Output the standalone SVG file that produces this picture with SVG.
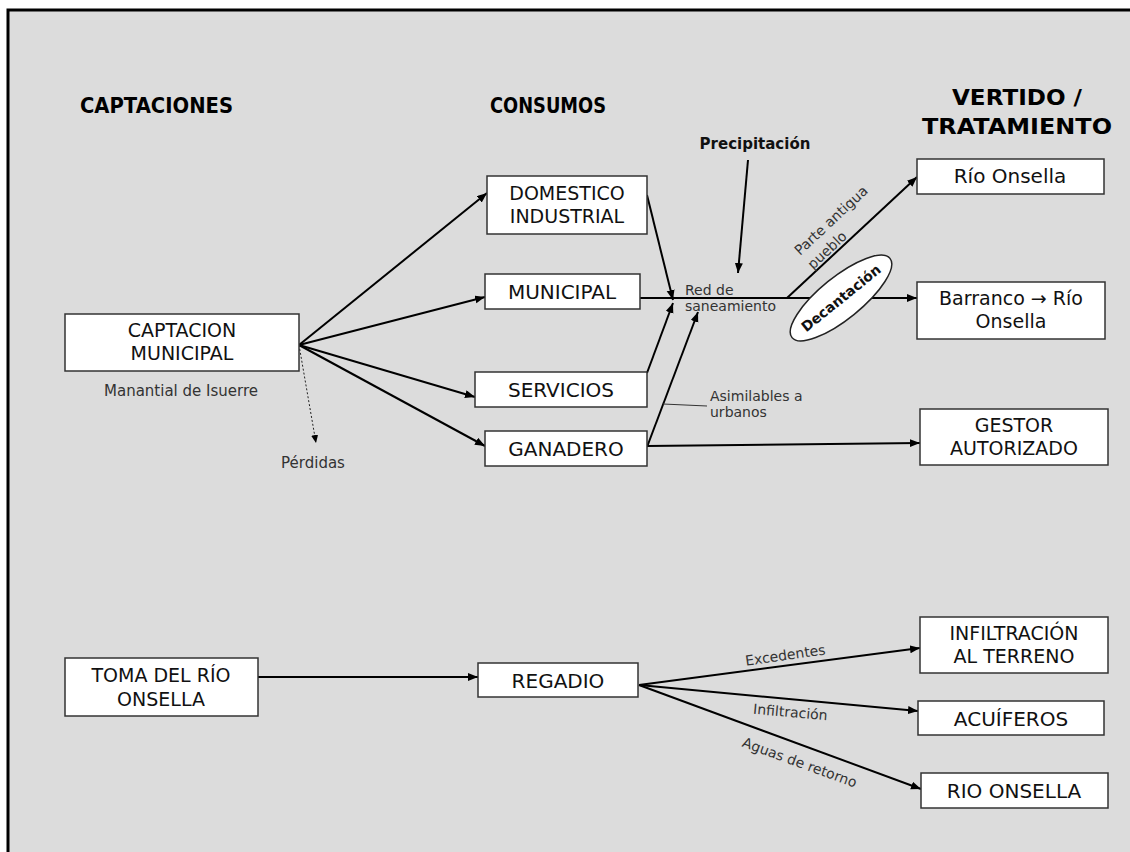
<svg xmlns="http://www.w3.org/2000/svg" width="1130" height="852" viewBox="0 0 1130 852">
<style>
.box{fill:#fff;stroke:#333;stroke-width:1.5}
.bt{font-family:"DejaVu Sans","Verdana",sans-serif;font-size:20px;fill:#111;text-anchor:middle}
.b2{font-size:19px}
.lb{font-family:"DejaVu Sans","Verdana",sans-serif;font-size:14px;fill:#333}
.hd{font-family:"DejaVu Sans","Verdana",sans-serif;font-size:21px;font-weight:bold;fill:#000}
.ln{fill:none;stroke:#000;stroke-width:2}
</style>
<defs>
<marker id="ah" markerUnits="userSpaceOnUse" markerWidth="11" markerHeight="9" refX="10" refY="4" orient="auto">
<path d="M0,0 L10,4 L0,8 z" fill="#000"/>
</marker>
<marker id="ahs" markerUnits="userSpaceOnUse" markerWidth="9" markerHeight="8" refX="8" refY="3.5" orient="auto">
<path d="M0,0 L8,3.5 L0,7 z" fill="#000"/>
</marker>
</defs>
<rect x="0" y="0" width="1130" height="852" fill="#fff"/>
<rect x="9" y="11" width="1121" height="841" fill="#dcdcdc"/>
<path d="M8,852 V10 H1130" fill="none" stroke="#000" stroke-width="3"/>

<g id="headings">
<text class="hd" x="80" y="113" textLength="153" lengthAdjust="spacingAndGlyphs">CAPTACIONES</text>
<text class="hd" x="490" y="113" textLength="116" lengthAdjust="spacingAndGlyphs">CONSUMOS</text>
<text class="hd" x="952" y="105" textLength="130" lengthAdjust="spacingAndGlyphs">VERTIDO /</text>
<text class="hd" x="922" y="134" textLength="190" lengthAdjust="spacingAndGlyphs">TRATAMIENTO</text>
</g>

<g id="connectors">
<line class="ln" x1="299" y1="345" x2="487" y2="193" marker-end="url(#ah)"/>
<line class="ln" x1="299" y1="345" x2="485" y2="297" marker-end="url(#ah)"/>
<line class="ln" x1="299" y1="345" x2="475" y2="397" marker-end="url(#ah)"/>
<line class="ln" x1="299" y1="345" x2="485" y2="446" marker-end="url(#ah)"/>
<line x1="299" y1="345" x2="316" y2="443" fill="none" stroke="#222" stroke-width="1" stroke-dasharray="2,2" marker-end="url(#ahs)"/>
<line class="ln" x1="647" y1="195" x2="673" y2="300" marker-end="url(#ah)"/>
<line class="ln" x1="640" y1="298" x2="917" y2="298" marker-end="url(#ah)"/>
<line class="ln" x1="647" y1="373" x2="673" y2="303" marker-end="url(#ah)"/>
<line class="ln" x1="647" y1="447" x2="698" y2="312" marker-end="url(#ah)"/>
<line x1="663" y1="404" x2="707" y2="406" stroke="#333" stroke-width="1"/>
<line class="ln" x1="647" y1="446" x2="920" y2="443" marker-end="url(#ah)"/>
<line class="ln" x1="748" y1="160" x2="738" y2="273" marker-end="url(#ah)"/>
<line class="ln" x1="787" y1="298" x2="917" y2="177" marker-end="url(#ah)"/>
<line class="ln" x1="258" y1="677" x2="478" y2="677" marker-end="url(#ah)"/>
<line class="ln" x1="639" y1="685" x2="920" y2="648" marker-end="url(#ah)"/>
<line class="ln" x1="639" y1="685" x2="918" y2="711" marker-end="url(#ah)"/>
<line class="ln" x1="639" y1="685" x2="921" y2="789" marker-end="url(#ah)"/>
</g>

<g id="captacion-municipal">
<rect class="box" x="65" y="314" width="234" height="57"/>
<text class="bt b2" x="182" y="337">CAPTACION</text>
<text class="bt b2" x="182" y="360">MUNICIPAL</text>
</g>
<g id="manantial">
<text class="lb" x="181" y="396" text-anchor="middle" style="font-size:15px">Manantial de Isuerre</text>
</g>
<g id="perdidas">
<text class="lb" x="313" y="468" text-anchor="middle" style="font-size:15px">Pérdidas</text>
</g>

<g id="domestico-industrial">
<rect class="box" x="487" y="176" width="160" height="58"/>
<text class="bt b2" x="567" y="200">DOMESTICO</text>
<text class="bt b2" x="567" y="223">INDUSTRIAL</text>
</g>
<g id="municipal">
<rect class="box" x="485" y="274" width="155" height="35"/>
<text class="bt" x="562" y="299">MUNICIPAL</text>
</g>
<g id="servicios">
<rect class="box" x="475" y="372" width="172" height="35"/>
<text class="bt" x="561" y="397">SERVICIOS</text>
</g>
<g id="ganadero">
<rect class="box" x="485" y="431" width="162" height="35"/>
<text class="bt" x="566" y="456">GANADERO</text>
</g>

<g id="red-saneamiento">
<text class="lb" x="685" y="295">Red de</text>
<text class="lb" x="685" y="311">saneamiento</text>
</g>
<g id="precipitacion">
<text x="755" y="149" text-anchor="middle" style="font-family:'DejaVu Sans',Verdana,sans-serif;font-size:15px;font-weight:bold;fill:#111">Precipitación</text>
</g>
<g id="asimilables">
<text class="lb" x="710" y="401">Asimilables a</text>
<text class="lb" x="710" y="417">urbanos</text>
</g>
<g id="parte-antigua">
<g transform="translate(800,256) rotate(-43)">
<text class="lb" x="0" y="0">Parte antigua</text>
<text class="lb" x="0" y="19">pueblo</text>
</g>
</g>
<g id="decantacion">
<g transform="translate(841,298) rotate(-39)">
<ellipse cx="0" cy="0" rx="63" ry="21" fill="#fff" stroke="#222" stroke-width="1.5"/>
<text x="0" y="5" text-anchor="middle" style="font-family:'DejaVu Sans',Verdana,sans-serif;font-size:14px;font-weight:bold;fill:#111">Decantación</text>
</g>
</g>

<g id="rio-onsella">
<rect class="box" x="917" y="159" width="187" height="35"/>
<text class="bt" x="1010" y="183">Río Onsella</text>
</g>
<g id="barranco">
<rect class="box" x="917" y="282" width="188" height="57"/>
<text class="bt b2" x="1011" y="305">Barranco → Río</text>
<text class="bt b2" x="1011" y="328">Onsella</text>
</g>
<g id="gestor">
<rect class="box" x="920" y="409" width="188" height="56"/>
<text class="bt b2" x="1014" y="432">GESTOR</text>
<text class="bt b2" x="1014" y="455">AUTORIZADO</text>
</g>

<g id="toma-rio">
<rect class="box" x="65" y="658" width="193" height="58"/>
<text class="bt b2" x="161" y="682">TOMA DEL RÍO</text>
<text class="bt b2" x="161" y="706">ONSELLA</text>
</g>
<g id="regadio">
<rect class="box" x="478" y="663" width="160" height="34"/>
<text class="bt" x="558" y="688">REGADIO</text>
</g>
<g id="infiltracion-terreno">
<rect class="box" x="920" y="617" width="188" height="56"/>
<text class="bt b2" x="1014" y="640">INFILTRACIÓN</text>
<text class="bt b2" x="1014" y="663">AL TERRENO</text>
</g>
<g id="acuiferos">
<rect class="box" x="918" y="701" width="186" height="34"/>
<text class="bt" x="1011" y="726">ACUÍFEROS</text>
</g>
<g id="rio-onsella-2">
<rect class="box" x="921" y="773" width="187" height="35"/>
<text class="bt" x="1014" y="798">RIO ONSELLA</text>
</g>

<g id="flow-labels">
<text class="lb" x="786" y="660" text-anchor="middle" transform="rotate(-8 786 660)">Excedentes</text>
<text class="lb" x="790" y="717" text-anchor="middle" transform="rotate(5 790 717)">Infiltración</text>
<text class="lb" x="798" y="767" text-anchor="middle" transform="rotate(20 798 767)">Aguas de retorno</text>
</g>
</svg>
